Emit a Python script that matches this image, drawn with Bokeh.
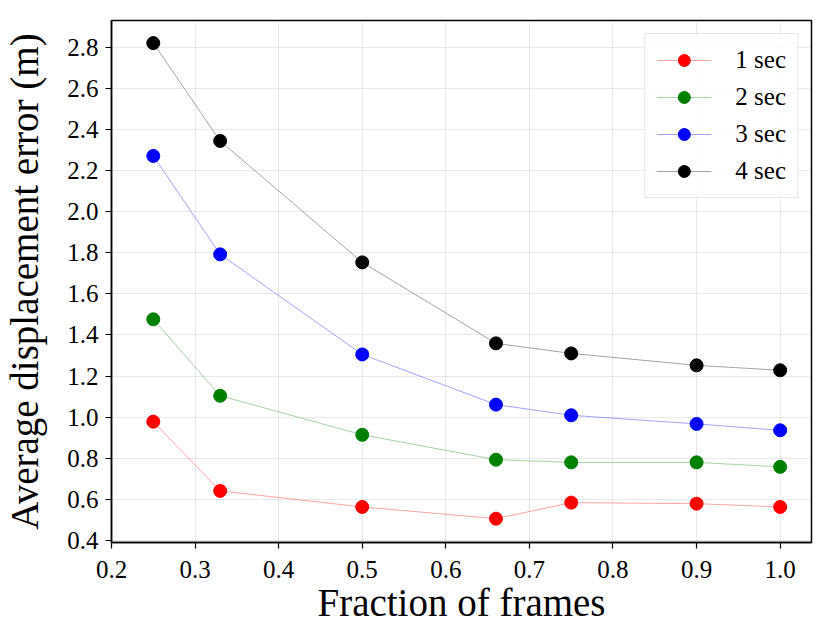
from bokeh.plotting import figure
from bokeh.models import FixedTicker, PrintfTickFormatter, Range1d
from bokeh.embed import file_html
from bokeh.resources import INLINE

fractions = [0.25, 0.33, 0.5, 0.66, 0.75, 0.9, 1.0]
ade_1sec = [0.978, 0.641, 0.563, 0.506, 0.584, 0.579, 0.563]
ade_2sec = [1.476, 1.104, 0.914, 0.793, 0.780, 0.780, 0.758]
ade_3sec = [2.271, 1.792, 1.305, 1.061, 1.009, 0.967, 0.936]
ade_4sec = [2.820, 2.344, 1.753, 1.359, 1.310, 1.252, 1.228]
series_labels = ["1 sec", "2 sec", "3 sec", "4 sec"]
series_colors = ["red", "green", "blue", "black"]
x_ticks = [0.2, 0.3, 0.4, 0.5, 0.6, 0.7, 0.8, 0.9, 1.0]
y_ticks = [0.4, 0.6, 0.8, 1.0, 1.2, 1.4, 1.6, 1.8, 2.0, 2.2, 2.4, 2.6, 2.8]

FONT = "Liberation Serif"

p = figure(frame_width=700, frame_height=522, output_backend="svg",
           toolbar_location=None,
           x_range=Range1d(0.2, 1.0375), y_range=Range1d(0.39, 2.93),
           min_border_left=110, min_border_right=13, min_border_top=20,
           min_border_bottom=80)

for ys, lab, col in zip([ade_1sec, ade_2sec, ade_3sec, ade_4sec], series_labels, series_colors):
    p.line(fractions, ys, line_color=col, line_width=0.8, line_alpha=0.45, legend_label=lab)
    p.scatter(fractions, ys, size=13, fill_color=col, line_color=col, legend_label=lab)

for ax in (p.xaxis[0], p.yaxis[0]):
    ax.major_label_text_font = FONT
    ax.major_label_text_font_size = "25px"
    ax.major_label_text_color = "black"
    ax.axis_label_text_font = FONT
    ax.axis_label_text_font_size = "39px"
    ax.axis_label_text_font_style = "normal"
    ax.axis_label_text_color = "black"
    ax.axis_line_width = 1.5
    ax.axis_line_color = "black"
    ax.major_tick_line_width = 1.2
    ax.major_tick_out = 6
    ax.major_tick_in = 0
    ax.minor_tick_line_color = None
    ax.formatter = PrintfTickFormatter(format="%.1f")

p.xaxis[0].ticker = FixedTicker(ticks=x_ticks)
p.yaxis[0].ticker = FixedTicker(ticks=y_ticks)
p.xaxis[0].axis_label = "Fraction of frames"
p.yaxis[0].axis_label = "Average displacement error (m)"
p.xaxis[0].axis_label_standoff = 0
p.yaxis[0].axis_label_standoff = 18
p.xaxis[0].major_label_standoff = 12
p.yaxis[0].major_label_standoff = 7

p.xgrid.ticker = FixedTicker(ticks=x_ticks)
p.ygrid.ticker = FixedTicker(ticks=y_ticks)
p.grid.grid_line_color = "#b0b0b0"
p.grid.grid_line_alpha = 0.35
p.grid.grid_line_width = 0.8

p.outline_line_color = "black"
p.outline_line_width = 1.5
p.outline_line_alpha = 1.0

lg = p.legend[0]
lg.location = "top_right"
lg.margin = 13
lg.padding = 11
lg.glyph_width = 55
lg.glyph_height = 30
lg.label_height = 30
lg.spacing = 7
lg.label_standoff = 24
lg.label_text_font = FONT
lg.label_text_font_size = "25px"
lg.label_text_color = "black"
lg.border_line_color = "#cccccc"
lg.border_line_width = 1.5
lg.background_fill_alpha = 0.8

open("out.html", "w").write(file_html(p, INLINE))
